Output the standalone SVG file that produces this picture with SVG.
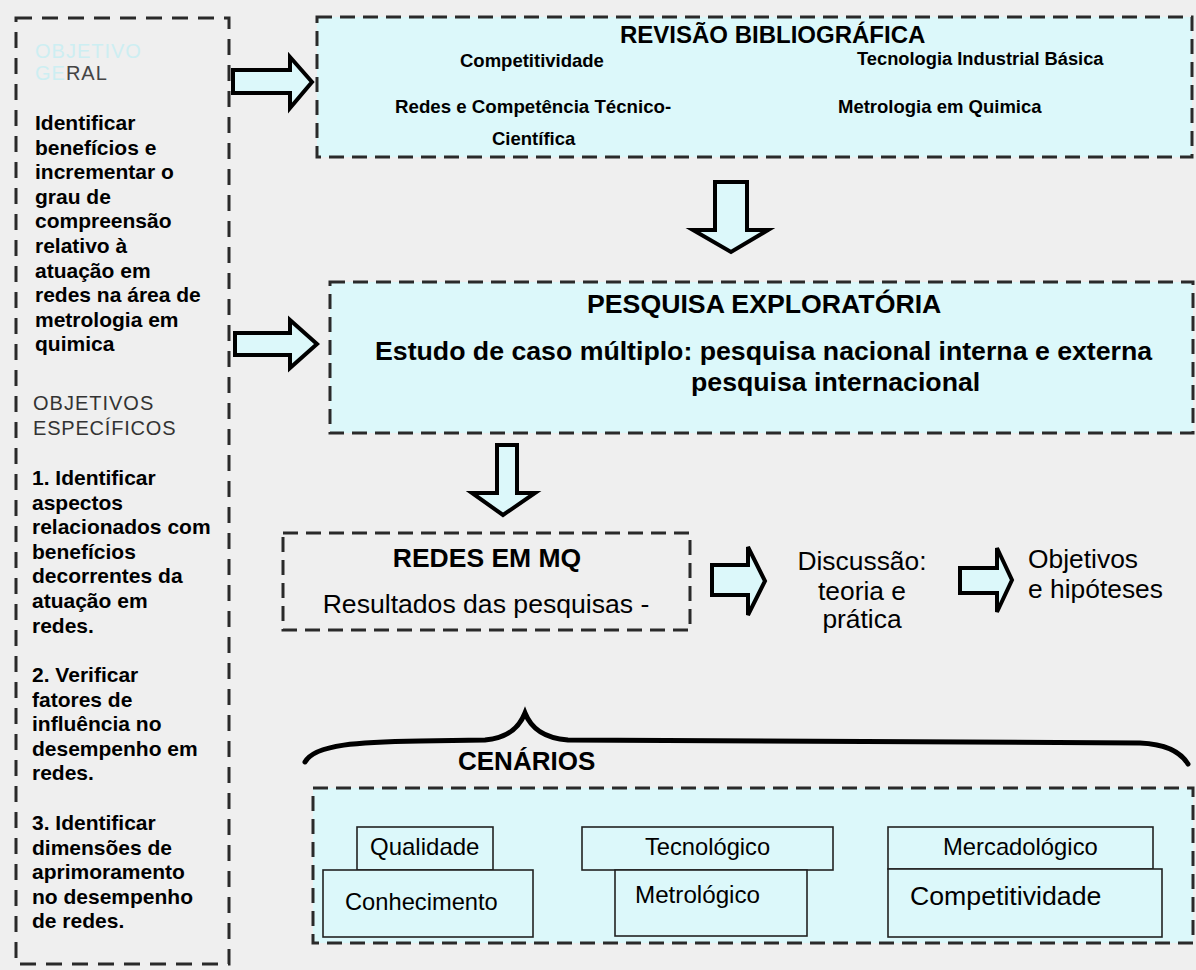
<svg xmlns="http://www.w3.org/2000/svg" width="1196" height="970" viewBox="0 0 1196 970">
<style>
.b{font-family:"Liberation Sans",Arial,sans-serif;font-weight:bold;fill:#000}
.r{font-family:"Liberation Sans",Arial,sans-serif;fill:#000}
.dash{fill:none;stroke:#2a2a2a;stroke-width:3;stroke-dasharray:15 8}
.cy{fill:#dcf8fa}
.inner{fill:#dcf8fa;stroke:#222;stroke-width:1.6}
.arr{fill:#dcf8fa;stroke:#000;stroke-width:4;stroke-linejoin:miter}
</style>
<rect width="1196" height="970" fill="#efefef"/>

<g id="objetivos">
<rect x="16" y="18" width="213" height="946" class="dash" style="stroke-dasharray:16 10"/>
<text x="35" y="58" class="r" font-size="20" letter-spacing="1" fill="#cdeef2" style="fill:#cdeef2">OBJETIVO</text>
<text x="35" y="80" class="r" font-size="20" letter-spacing="1"><tspan style="fill:#cdeef2">GE</tspan><tspan style="fill:#444">RAL</tspan></text>
<g class="b" font-size="21">
<text x="35" y="130">Identificar</text>
<text x="35" y="154.6">benefícios e</text>
<text x="35" y="179.2">incrementar o</text>
<text x="35" y="203.8">grau de</text>
<text x="35" y="228.4">compreensão</text>
<text x="35" y="253">relativo à</text>
<text x="35" y="277.6">atuação em</text>
<text x="35" y="302.2">redes na área de</text>
<text x="35" y="326.8">metrologia em</text>
<text x="35" y="351.4">quimica</text>
</g>
<text x="33" y="410" class="r" font-size="20" letter-spacing="1" style="fill:#333">OBJETIVOS</text>
<text x="33" y="435" class="r" font-size="20" letter-spacing="0.8" style="fill:#333">ESPECÍFICOS</text>
<g class="b" font-size="21">
<text x="32" y="485">1. Identificar</text>
<text x="32" y="509.6">aspectos</text>
<text x="32" y="534.2">relacionados com</text>
<text x="32" y="558.8">benefícios</text>
<text x="32" y="583.4">decorrentes da</text>
<text x="32" y="608">atuação em</text>
<text x="32" y="632.6">redes.</text>
<text x="32" y="682">2. Verificar</text>
<text x="32" y="706.6">fatores de</text>
<text x="32" y="731.2">influência no</text>
<text x="32" y="755.8">desempenho em</text>
<text x="32" y="780.4">redes.</text>
<text x="32" y="830">3. Identificar</text>
<text x="32" y="854.6">dimensões de</text>
<text x="32" y="879.2">aprimoramento</text>
<text x="32" y="903.8">no desempenho</text>
<text x="32" y="928.4">de redes.</text>
</g>
</g>

<g id="revisao">
<rect x="317" y="17" width="875" height="140" class="cy"/>
<rect x="317" y="17" width="875" height="140" class="dash"/>
<text x="620" y="43" class="b" font-size="24">REVISÃO BIBLIOGRÁFICA</text>
<text x="460" y="67" class="b" font-size="18.5">Competitividade</text>
<text x="857" y="65" class="b" font-size="18.3">Tecnologia Industrial Básica</text>
<text x="395" y="113" class="b" font-size="18.7">Redes e Competência Técnico-</text>
<text x="838" y="113" class="b" font-size="18.5">Metrologia em Quimica</text>
<text x="492" y="145" class="b" font-size="18.5">Científica</text>
</g>

<g id="pesquisa">
<rect x="330" y="282" width="863" height="151" class="cy"/>
<rect x="330" y="282" width="863" height="151" class="dash"/>
<text x="587" y="313" class="b" font-size="26.7">PESQUISA EXPLORATÓRIA</text>
<text x="375" y="360" class="b" font-size="26.7">Estudo de caso múltiplo: pesquisa nacional interna e externa</text>
<text x="691" y="391" class="b" font-size="26.7">pesquisa internacional</text>
</g>

<g id="redes">
<rect x="283" y="533" width="407" height="97" class="dash"/>
<text x="487" y="567" class="b" font-size="26.5" text-anchor="middle">REDES EM MQ</text>
<text x="486" y="613" class="r" font-size="26.6" text-anchor="middle">Resultados das pesquisas -</text>
</g>

<g id="discussao">
<text x="862" y="570" class="r" font-size="26.4" text-anchor="middle">Discussão:</text>
<text x="862" y="600" class="r" font-size="26.4" text-anchor="middle">teoria e</text>
<text x="862" y="628" class="r" font-size="26.4" text-anchor="middle">prática</text>
</g>

<g id="objetivos-hipoteses">
<text x="1028" y="568" class="r" font-size="26.4">Objetivos</text>
<text x="1028" y="598" class="r" font-size="26.4">e hipóteses</text>
</g>

<g id="cenarios">
<path d="M305,762 C315,744 360,742 420,741 L485,740 C508,738 519,728 525,713 C531,728 543,738 568,740 L1140,743 C1165,744 1180,751 1188,764" fill="none" stroke="#000" stroke-width="5" stroke-linecap="round"/>
<text x="458" y="770" class="b" font-size="26">CENÁRIOS</text>
<rect x="313" y="788" width="880" height="155" class="cy"/>
<rect x="313" y="788" width="880" height="155" class="dash"/>
<g id="qualidade"><rect x="357" y="827" width="136" height="43" class="inner"/><text x="370" y="855" class="r" font-size="24">Qualidade</text></g>
<g id="conhecimento"><rect x="323" y="870" width="210" height="67" class="inner"/><text x="345" y="910" class="r" font-size="23.7">Conhecimento</text></g>
<g id="tecnologico"><rect x="582" y="827" width="251" height="43" class="inner"/><text x="645" y="855" class="r" font-size="23.7">Tecnológico</text></g>
<g id="metrologico"><rect x="615" y="870" width="192" height="66" class="inner"/><text x="635" y="903" class="r" font-size="24.2">Metrológico</text></g>
<g id="mercadologico"><rect x="888" y="827" width="265" height="42" class="inner"/><text x="943" y="855" class="r" font-size="23.8">Mercadológico</text></g>
<g id="competitividade"><rect x="888" y="869" width="274" height="68" class="inner"/><text x="910" y="905" class="r" font-size="26.7">Competitividade</text></g>
</g>

<g id="connectors">
<polygon class="arr" points="233,70 290,70 290,57 312,82 290,108 290,93 233,93"/>
<polygon class="arr" points="235,333 290,333 290,320 317,344 290,368 290,355 235,355"/>
<polygon class="arr" points="715,182 747,182 747,230 768,230 731,252 693,230 715,230"/>
<polygon class="arr" points="497,445 517,445 517,493 535,493 503,515 472,493 497,493"/>
<polygon class="arr" points="712,565 748,565 748,547 765,581 748,615 748,595 712,595"/>
<polygon class="arr" points="960,568 997,568 997,548 1012,580 997,612 997,593 960,593"/>
</g>
</svg>
